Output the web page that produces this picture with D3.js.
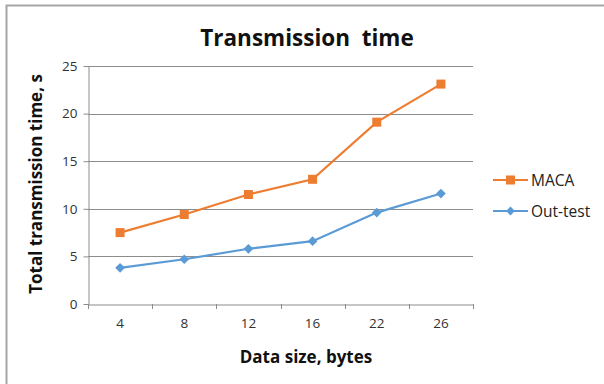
<!DOCTYPE html>
<html><head><meta charset="utf-8">
<script src="https://cdn.jsdelivr.net/npm/d3@7"></script>
<style>html,body{margin:0;padding:0;background:#fff;}svg{display:block;}</style>
</head><body>
<svg id="c" width="604" height="384"></svg>
<script>
const categories = ["4","8","12","16","22","26"];
const macaValues = [7.5, 9.4, 11.5, 13.1, 19.1, 23.1];
const outTestValues = [3.8, 4.7, 5.8, 6.6, 9.6, 11.6];
const yTicks = [0,5,10,15,20,25];
const seriesNames = ["MACA","Out-test"];
const font = "'Open Sans', sans-serif";

const svg = d3.select("#c");
svg.append("rect").attr("x",6.5).attr("y",5.5).attr("width",620).attr("height",400)
  .attr("fill","#fff").attr("stroke","#a6a6a6").attr("stroke-width",2);

const L=88, R=473, T=66, B=304;
const x = d3.scaleBand().domain(categories).range([L,R]);
const y = d3.scaleLinear().domain([0,25]).range([B,T]);

svg.append("g").selectAll("line").data(yTicks.filter(d=>d>0)).join("line")
  .attr("x1",L).attr("x2",R).attr("y1",d=>Math.round(y(d))+0.5).attr("y2",d=>Math.round(y(d))+0.5)
  .attr("stroke","#8c8c8c").attr("stroke-width",1);

const ya = svg.append("g").attr("transform",`translate(${L+0.5},0)`)
  .call(d3.axisLeft(y).tickValues(yTicks).tickSize(5).tickPadding(6).tickSizeOuter(0));
ya.select(".domain").attr("stroke","#8c8c8c");
ya.selectAll(".tick line").attr("stroke","#8c8c8c");
ya.selectAll(".tick text").attr("font-family",font).attr("font-size",13.5).attr("fill","#333");

const xa = svg.append("g").attr("transform",`translate(0,${B+0.5})`)
  .call(d3.axisBottom(x).tickSize(0).tickPadding(14));
xa.select(".domain").attr("stroke","#8c8c8c");
xa.selectAll(".tick text").attr("font-family",font).attr("font-size",13.5).attr("fill","#333");
const bounds = categories.map(c=>x(c)).concat([R]);
svg.append("g").selectAll("line").data(bounds).join("line")
  .attr("x1",d=>Math.round(d)+0.5).attr("x2",d=>Math.round(d)+0.5)
  .attr("y1",B).attr("y2",B+5).attr("stroke","#8c8c8c");

const cx = c=>x(c)+x.bandwidth()/2;
const line = d3.line().x((d,i)=>cx(categories[i])).y(d=>y(d));
const colors = ["#ED7D31","#5B9BD5"];
const data = [macaValues,outTestValues];

data.forEach((vals,si)=>{
  svg.append("path").datum(vals).attr("d",line).attr("fill","none")
    .attr("stroke",colors[si]).attr("stroke-width",2.2);
  if(si===0){
    svg.append("g").selectAll("rect").data(vals).join("rect")
      .attr("x",(d,i)=>cx(categories[i])-4.5).attr("y",d=>y(d)-4.5)
      .attr("width",9).attr("height",9).attr("fill",colors[0]);
  } else {
    svg.append("g").selectAll("path").data(vals).join("path")
      .attr("d",d3.symbol(d3.symbolDiamond2,60))
      .attr("transform",(d,i)=>`translate(${cx(categories[i])},${y(d)})`)
      .attr("fill",colors[1]);
  }
});

const leg = svg.append("g");
seriesNames.forEach((n,i)=>{
  const ly = 180 + i*31;
  leg.append("line").attr("x1",493).attr("x2",528).attr("y1",ly).attr("y2",ly)
    .attr("stroke",colors[i]).attr("stroke-width",2.2);
  if(i===0) leg.append("rect").attr("x",506).attr("y",ly-4.5).attr("width",9).attr("height",9).attr("fill",colors[0]);
  else leg.append("path").attr("d",d3.symbol(d3.symbolDiamond2,50)).attr("transform",`translate(510.5,${ly})`).attr("fill",colors[1]);
  leg.append("text").attr("x",531).attr("y",ly+5.5).text(n)
    .attr("font-family",font).attr("font-size",15.5).attr("fill","#222");
});

svg.append("text").attr("x",307).attr("y",46).attr("text-anchor","middle")
  .attr("font-family",font).attr("font-weight","bold").attr("font-size",22.5).attr("fill","#111")
  .text("Transmission  time").style("white-space","pre");
svg.append("text").attr("x",306).attr("y",363).attr("text-anchor","middle")
  .attr("font-family",font).attr("font-weight","bold").attr("font-size",17).attr("fill","#111")
  .text("Data size, bytes");
svg.append("text").attr("transform","translate(42,184) rotate(-90)").attr("text-anchor","middle")
  .attr("font-family",font).attr("font-weight","bold").attr("font-size",17).attr("fill","#111")
  .text("Total transmission time, s");
</script>
</body></html>
